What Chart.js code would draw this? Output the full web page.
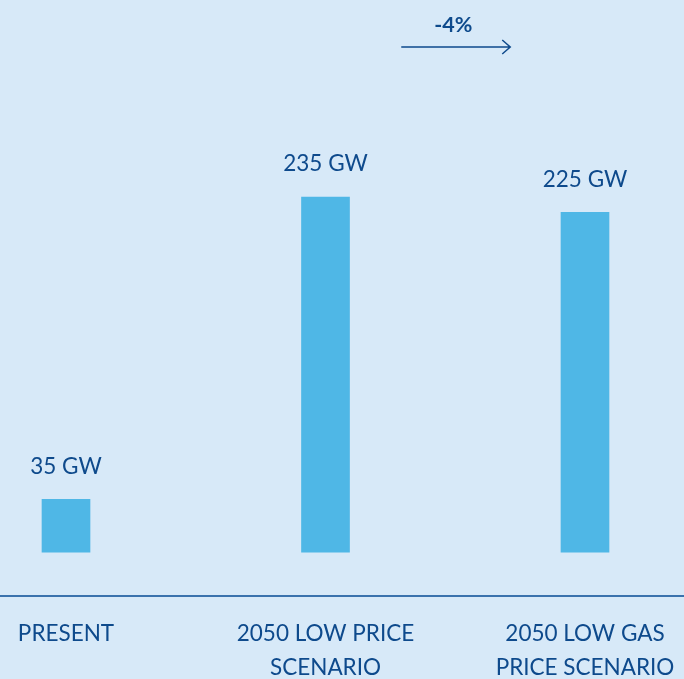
<!DOCTYPE html>
<html>
<head>
<meta charset="utf-8">
<script src="https://cdn.jsdelivr.net/npm/chart.js@4.4.1/dist/chart.umd.min.js"></script>
<style>
  html, body { margin: 0; padding: 0; background: #d7e9f8; }
  #wrap { width: 684px; height: 679px; position: relative; }
</style>
</head>
<body>
<div id="wrap"><canvas id="chart"></canvas></div>
<script>
// data
const categories = [['PRESENT'], ['2050 LOW PRICE', 'SCENARIO'], ['2050 LOW GAS', 'PRICE SCENARIO']];
const capacityGW = [35, 235, 225];
const unit = 'GW';

const textColor = '#0e4a8c';
const barColor = '#4fb7e6';
const lineColor = '#3a72ad';
const fontFamily = 'Lato, "Open Sans", sans-serif';
const fontSize = 22.5;

// labels above bars, full-width baseline and the change arrow
const decorations = {
  id: 'decorations',
  afterDatasetsDraw(chart) {
    const { ctx, chartArea } = chart;
    const meta = chart.getDatasetMeta(0);
    ctx.save();

    // baseline across the whole width
    ctx.strokeStyle = lineColor;
    ctx.lineWidth = 2;
    ctx.beginPath();
    ctx.moveTo(0, chartArea.bottom);
    ctx.lineTo(chart.width, chartArea.bottom);
    ctx.stroke();

    // value labels
    ctx.fillStyle = textColor;
    ctx.font = fontSize + 'px ' + fontFamily;
    ctx.textAlign = 'center';
    ctx.textBaseline = 'middle';
    meta.data.forEach((bar, i) => {
      ctx.fillText(capacityGW[i] + ' ' + unit, bar.x, bar.y - 33);
    });

    // arrow between the two 2050 scenarios
    const x1 = meta.data[1].x, x2 = meta.data[2].x;
    const mid = (x1 + x2) / 2;
    const ay = chartArea.top + 47;
    ctx.strokeStyle = textColor;
    ctx.lineWidth = 1.5;
    ctx.beginPath();
    ctx.moveTo(mid - 54, ay);
    ctx.lineTo(mid + 55, ay);
    ctx.moveTo(mid + 47, ay - 7);
    ctx.lineTo(mid + 55, ay);
    ctx.lineTo(mid + 47, ay + 7);
    ctx.stroke();

    const change = Math.round((capacityGW[2] - capacityGW[1]) / capacityGW[1] * 100);
    ctx.font = 'bold ' + (fontSize - 1) + 'px ' + fontFamily;
    ctx.fillText(change + '%', mid - 2, ay - 22);
    ctx.restore();
  }
};

new Chart(document.getElementById('chart'), {
  type: 'bar',
  data: {
    labels: categories,
    datasets: [{
      data: capacityGW,
      backgroundColor: barColor,
      barThickness: 48,
      clip: false,
    }],
  },
  options: {
    responsive: true,
    maintainAspectRatio: false,
    animation: false,
    layout: { padding: { left: 66, right: 99, top: 0, bottom: 0 } },
    plugins: { legend: { display: false }, tooltip: { enabled: false } },
    scales: {
      x: {
        offset: false,
        grid: { display: false, drawTicks: false },
        border: { display: false },
        ticks: {
          color: textColor,
          font: { family: fontFamily, size: fontSize, lineHeight: 34 / fontSize },
          padding: 21,
          maxRotation: 0,
          autoSkip: false,
        },
        afterFit(scale) {
          scale.height = 83;
          scale.paddingLeft = 0;
          scale.paddingRight = 0;
        },
      },
      y: {
        display: false,
        min: -29,
        max: 365.5,
      },
    },
  },
  plugins: [decorations],
});
</script>
</body>
</html>
